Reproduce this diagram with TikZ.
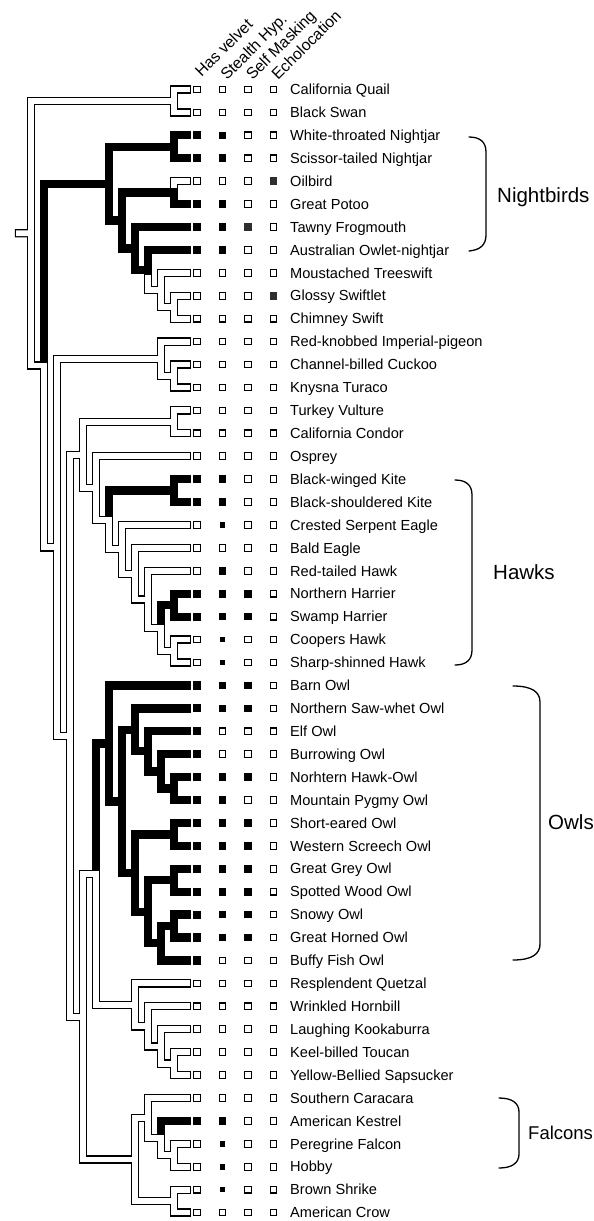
\documentclass[tikz,border=0pt]{standalone}
\usepackage{fontspec}
\setmainfont{Liberation Sans}
\usetikzlibrary{calc}
\newcommand\inode[4]{\path let \p1=(#3), \p2=(#4) in coordinate (#1) at ({187pt-13.02pt*#2}, {0.5*(\y1)+0.5*(\y2)});}
\def\whiteedges{root/qs, qs/t1, qs/t2, root/b, b/d, d/p1, p1/t12, p1/p2, p2/t13, p2/t14, d/d2, d2/d2a, d2a/v, v/t15, v/t16, d2a/oh, oh/t17, oh/h, h/h2, h2/t20, h2/h3, h3/t21, h3/h4, h4/t22, h4/h5, h5/cs, cs/t25, cs/t26, d2/d2b, d2b/poc, poc/cor, cor/t40, cor/hb, hb/t41, hb/kk, kk/t42, kk/ts, ts/t43, ts/t44, d2b/aus, aus/fal, fal/t45, fal/kes, kes/ph, ph/t47, ph/t48, aus/sc, sc/t49, sc/t50, sw1/t9, sw1/sw2, sw2/t10, sw2/t11}
\def\blackedges{b/c, c/nj, nj/t3, nj/t4, c/c2, c2/op, op/t6, c2/c3, c3/t7, c3/c4, c4/t8, h/kites, kites/t18, kites/t19, h5/harr, harr/t23, harr/t24, poc/o, o/t27, o/st, st/st1, st1/t28, st1/elf, elf/t29, elf/bur, bur/t30, bur/nm, nm/t31, nm/t32, st/st2, st2/sew, sew/t33, sew/t34, st2/g2, g2/gs, gs/t35, gs/t36, g2/g3, g3/sg, sg/t37, sg/t38, g3/t39, kes/t46}
\begin{document}
\begin{tikzpicture}[x=1pt,y=-1pt,
  outer/.style={line width=8.3pt, line cap=rect, line join=miter, black},
  inner/.style={line width=5.8pt, line cap=rect, line join=miter, white},
  blk/.style={line width=8.3pt, line cap=butt, line join=miter, black},
  boxw/.style={draw=black, fill=white, line width=1.1pt, minimum size=6.6pt, inner sep=0pt, outer sep=0pt},
  boxk/.style={fill=black, minimum size=8.2pt, inner sep=0pt, outer sep=0pt},
  boxt/.style={fill=black, minimum size=7.6pt, inner sep=0pt, outer sep=0pt},
  boxs/.style={fill=black, minimum size=5.6pt, inner sep=0pt, outer sep=0pt},
  boxg/.style={fill=black!82, minimum size=7.8pt, inner sep=0pt, outer sep=0pt},
  lab/.style={anchor=base west, inner sep=0pt, font=\fontsize{14.6}{16}\selectfont},
  hdr/.style={anchor=base west, rotate=45, inner sep=0pt, font=\fontsize{15.8}{18}\selectfont},
  grp/.style={anchor=base west, inner sep=0pt, font=\fontsize{20.5}{24}\selectfont},
  brk/.style={line width=1.3pt, line cap=round}]
\useasboundingbox (0,0) rectangle (594,1221);
% tips
\foreach \i in {1,...,50} \coordinate (t\i) at (187, {89.5+(\i-1)*22.92});
% internal nodes
\inode{qs}{1}{t1}{t2}
\inode{nj}{1}{t3}{t4}
\inode{op}{1}{t5}{t6}
\inode{sw2}{1}{t10}{t11}
\inode{sw1}{2}{t9}{sw2}
\inode{c4}{3}{t8}{sw1}
\inode{c3}{4}{t7}{c4}
\inode{c2}{5}{op}{c3}
\inode{c}{6}{nj}{c2}
\inode{p2}{1}{t13}{t14}
\inode{p1}{2}{t12}{p2}
\inode{v}{1}{t15}{t16}
\inode{kites}{1}{t18}{t19}
\inode{cs}{1}{t25}{t26}
\inode{harr}{1}{t23}{t24}
\inode{h5}{2}{harr}{cs}
\inode{h4}{3}{t22}{h5}
\inode{h3}{4}{t21}{h4}
\inode{h2}{5}{t20}{h3}
\inode{h}{6}{kites}{h2}
\inode{oh}{7}{t17}{h}
\inode{d2a}{8}{v}{oh}
\inode{nm}{1}{t31}{t32}
\inode{bur}{2}{t30}{nm}
\inode{elf}{3}{t29}{bur}
\inode{st1}{4}{t28}{elf}
\inode{sew}{1}{t33}{t34}
\inode{gs}{1}{t35}{t36}
\inode{sg}{1}{t37}{t38}
\inode{g3}{2}{sg}{t39}
\inode{g2}{3}{gs}{g3}
\inode{st2}{4}{sew}{g2}
\inode{st}{5}{st1}{st2}
\inode{o}{6}{t27}{st}
\inode{ts}{1}{t43}{t44}
\inode{kk}{2}{t42}{ts}
\inode{hb}{3}{t41}{kk}
\inode{cor}{4}{t40}{hb}
\inode{poc}{7}{o}{cor}
\inode{ph}{1}{t47}{t48}
\inode{kes}{2}{t46}{ph}
\inode{fal}{3}{t45}{kes}
\inode{sc}{1}{t49}{t50}
\inode{aus}{4}{fal}{sc}
\inode{d2b}{8}{poc}{aus}
\inode{d2}{9}{d2a}{d2b}
\inode{d}{10}{p1}{d2}
\inode{b}{11}{c}{d}
\inode{root}{12}{qs}{b}
\coordinate (rootstub) at (19, 233.3);
% layer 1: outlines
\draw[outer] (rootstub) -- (root);
\foreach \p/\c in \whiteedges {\draw[outer] (\p) |- (\c);}
\foreach \p/\c in \blackedges {\draw[outer] (\p) |- (\c);}
\draw[outer] (op) |- (t5);
\draw[outer] (c4) |- (sw1);
% layer 2: white interiors
\draw[inner] (rootstub) -- (root);
\foreach \p/\c in \whiteedges {\draw[inner] (\p) |- (\c);}
\draw[inner, line cap=butt] ($(op)!5pt!(op|-t5)$) |- ($(t5)+(2.9,0)$);
\draw[inner, line cap=butt] ($(c4)!5pt!(c4|-sw1)$) |- ($(sw1)+(2.9,0)$);
% layer 3: black branches
\foreach \p/\c in \blackedges {\draw[blk] ($(\p)!4pt!(\p|-\c)$) |- (\c);}
% headers
\node[hdr] (hv) at (201.5,78) {Has velvet};
\node[hdr] (hs) at (227,81) {Stealth Hyp.};
\node[hdr] (hm) at (252.5,81) {Self Masking};
\node[hdr] (he) at (278,81) {Echolocation};
% rows
\foreach \i/\nm/\a/\b/\c/\d in {
1/California Quail/w/w/w/w,
2/Black Swan/w/w/w/w,
3/White-throated Nightjar/k/t/w/w,
4/Scissor-tailed Nightjar/k/t/w/w,
5/Oilbird/w/w/w/g,
6/Great Potoo/k/t/w/w,
7/Tawny Frogmouth/k/t/g/w,
8/Australian Owlet-nightjar/k/t/w/w,
9/Moustached Treeswift/w/w/w/w,
10/Glossy Swiftlet/w/w/w/g,
11/Chimney Swift/w/w/w/w,
12/Red-knobbed Imperial-pigeon/w/w/w/w,
13/Channel-billed Cuckoo/w/w/w/w,
14/Knysna Turaco/w/w/w/w,
15/Turkey Vulture/w/w/w/w,
16/California Condor/w/w/w/w,
17/Osprey/w/w/w/w,
18/Black-winged Kite/k/t/w/w,
19/Black-shouldered Kite/k/t/w/w,
20/Crested Serpent Eagle/w/s/w/w,
21/Bald Eagle/w/w/w/w,
22/Red-tailed Hawk/w/t/w/w,
23/Northern Harrier/k/t/t/w,
24/Swamp Harrier/k/t/t/w,
25/Coopers Hawk/w/s/w/w,
26/Sharp-shinned Hawk/w/s/w/w,
27/Barn Owl/k/t/t/w,
28/Northern Saw-whet Owl/k/t/t/w,
29/Elf Owl/k/w/w/w,
30/Burrowing Owl/k/w/w/w,
31/Norhtern Hawk-Owl/k/t/t/w,
32/Mountain Pygmy Owl/k/t/w/w,
33/Short-eared Owl/k/t/t/w,
34/Western Screech Owl/k/t/t/w,
35/Great Grey Owl/k/t/t/w,
36/Spotted Wood Owl/k/t/t/w,
37/Snowy Owl/k/t/t/w,
38/Great Horned Owl/k/t/t/w,
39/Buffy Fish Owl/k/w/w/w,
40/Resplendent Quetzal/w/w/w/w,
41/Wrinkled Hornbill/w/w/w/w,
42/Laughing Kookaburra/w/w/w/w,
43/Keel-billed Toucan/w/w/w/w,
44/Yellow-Bellied Sapsucker/w/w/w/w,
45/Southern Caracara/w/w/w/w,
46/American Kestrel/k/t/w/w,
47/Peregrine Falcon/w/s/w/w,
48/Hobby/w/s/w/w,
49/Brown Shrike/w/s/w/w,
50/American Crow/w/w/w/w}{
  \pgfmathsetmacro\yy{89.5+(\i-1)*22.92}
  \node[box\a] (va\i) at (197,\yy) {};
  \node[box\b] (vb\i) at (222.5,\yy) {};
  \node[box\c] (vc\i) at (248,\yy) {};
  \node[box\d] (vd\i) at (273.5,\yy) {};
  \node[lab] (lab\i) at (290,\yy+5.2) {\nm};
}
% group brackets
\draw[brk] (469,137) .. controls (480,137) and (486,142) .. (486,152) -- (486,235) .. controls (486,245) and (480,250) .. (469,251);
\draw[brk] (455,480) .. controls (466,480) and (472,485) .. (472,495) -- (472,650) .. controls (472,660) and (466,665) .. (455,665);
\draw[brk] (513,686) .. controls (532,686) and (540,692) .. (540,702) -- (540,944) .. controls (540,954) and (532,960) .. (513,960);
\draw[brk] (499,1098) .. controls (512,1098) and (519,1103) .. (519,1112) -- (519,1154) .. controls (519,1163) and (512,1168) .. (499,1168);
\node[grp] (gn) at (497,202) {Nightbirds};
\node[grp] (gh) at (493,579) {Hawks};
\node[grp] (go) at (548,829) {Owls};
\node[grp, font=\fontsize{18.5}{22}\selectfont] (gf) at (528,1139.5) {Falcons};
\end{tikzpicture}
\end{document}
